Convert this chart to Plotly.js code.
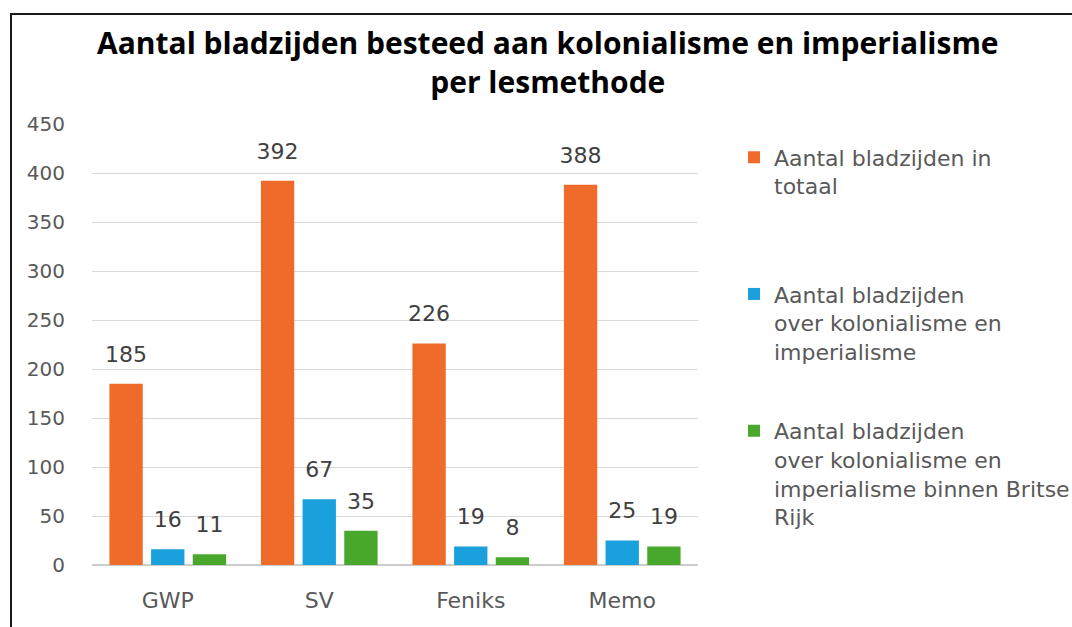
<!DOCTYPE html>
<html>
<head>
<meta charset="utf-8">
<script src="https://cdn.plot.ly/plotly-3.0.1.min.js"></script>
<style>
  html, body { margin: 0; padding: 0; background: #fff; }
  #wrap { position: relative; width: 1072px; height: 627px; overflow: hidden; }
  #chart { width: 1072px; height: 627px; }
  #frame { position: absolute; left: 10px; top: 13px; right: -10px; bottom: -10px;
           border-left: 2.5px solid #1a1a1a; border-top: 2.5px solid #1a1a1a; pointer-events: none; }
</style>
</head>
<body>
<div id="wrap">
  <div id="chart"></div>
  <div id="frame"></div>
</div>
<script>
// ---- data ----
const categories = ['GWP', 'SV', 'Feniks', 'Memo'];
const totaal = [185, 392, 226, 388];
const koloniaal = [16, 67, 19, 25];
const britsRijk = [11, 35, 8, 19];
const seriesNames = [
  'Aantal bladzijden in<br>totaal<br>\u00a0',
  'Aantal bladzijden<br>over kolonialisme en<br>imperialisme',
  'Aantal bladzijden<br>over kolonialisme en<br>imperialisme binnen Britse<br>Rijk'
];
const yTicks = [0, 50, 100, 150, 200, 250, 300, 350, 400, 450];

const colors = ['#EE6B2A', '#1AA0DD', '#47A82C'];
const seriesValues = [totaal, koloniaal, britsRijk];
const GAP = 0.175;

const traces = [];
seriesValues.forEach((vals, i) => {
  traces.push({
    type: 'bar',
    x: categories,
    y: vals,
    name: seriesNames[i],
    legendgroup: 'g' + i,
    marker: { color: colors[i] },
    hoverinfo: 'y'
  });
});
// data labels as text-only scatter traces grouped like the bars
seriesValues.forEach((vals, i) => {
  traces.push({
    type: 'scatter',
    mode: 'markers+text',
    x: categories,
    y: vals,
    text: vals.map(String),
    textposition: 'top center',
    textfont: { family: 'DejaVu Sans', size: 22, color: '#404040' },
    marker: { size: 25, color: 'rgba(0,0,0,0)' },
    showlegend: false,
    hoverinfo: 'skip'
  });
});

const layout = {
  width: 1072,
  height: 627,
  paper_bgcolor: '#ffffff',
  plot_bgcolor: '#ffffff',
  margin: { l: 92, r: 374, t: 123.5, b: 62, autoexpand: false },
  barmode: 'group',
  bargap: GAP,
  bargroupgap: 0.2,
  scattermode: 'group',
  scattergap: GAP,
  title: {
    text: '<b>Aantal bladzijden besteed aan kolonialisme en imperialisme<br>per lesmethode</b>',
    font: { family: 'Open Sans', size: 30, color: '#000000' },
    x: 0.511,
    xanchor: 'center',
    y: 1 - 54 / 627,
    yanchor: 'top'
  },
  xaxis: {
    type: 'category',
    tickfont: { family: 'DejaVu Sans', size: 22, color: '#595959' },
    showgrid: false,
    showline: false,
    ticks: '',
    ticklabelstandoff: 20
  },
  yaxis: {
    range: [0, 450],
    tickvals: yTicks,
    ticktext: yTicks.map(String),
    tickfont: { family: 'DejaVu Sans', size: 20, color: '#595959' },
    gridcolor: '#d9d9d9',
    gridwidth: 1,
    zeroline: true,
    zerolinecolor: '#cccccc',
    zerolinewidth: 1.5,
    showline: false,
    ticks: '',
    ticklabelstandoff: 26,
    fixedrange: true
  },
  legend: {
    xref: 'container',
    x: 734 / 1072,
    xanchor: 'left',
    y: 0.972,
    yanchor: 'top',
    font: { family: 'DejaVu Sans', size: 22, color: '#595959' },
    tracegroupgap: 48,
    valign: 'top',
    bgcolor: 'rgba(0,0,0,0)'
  },
  showlegend: true
};

Plotly.newPlot('chart', traces, layout, { displayModeBar: false, staticPlot: true });
</script>
</body>
</html>
